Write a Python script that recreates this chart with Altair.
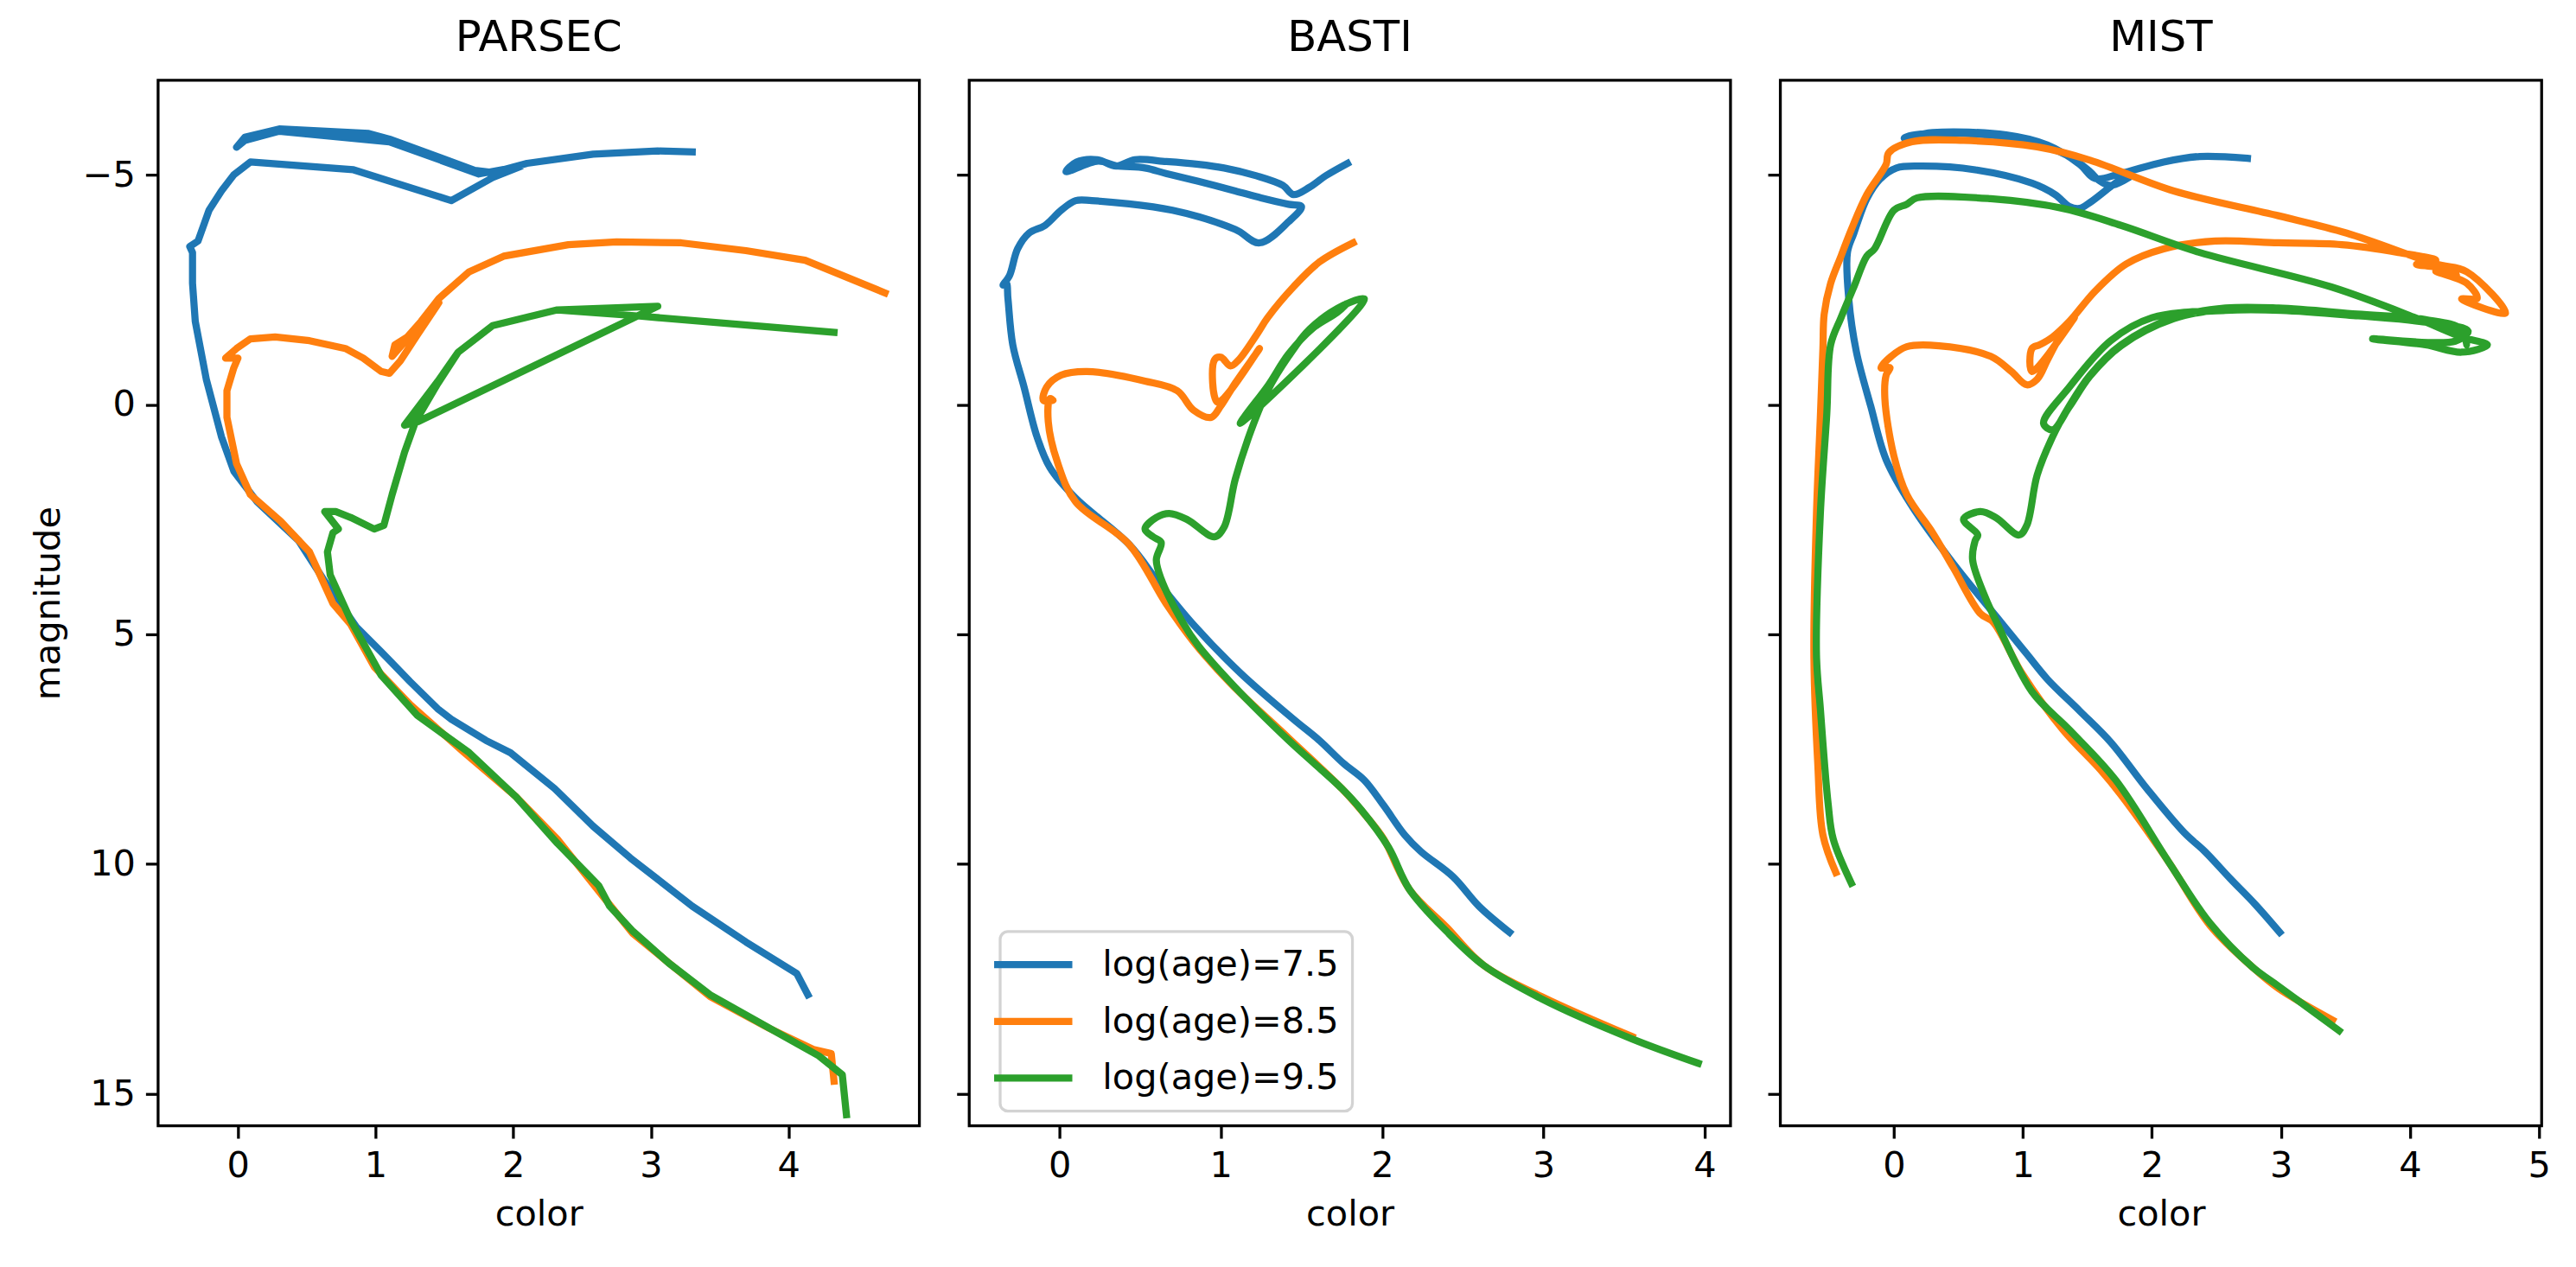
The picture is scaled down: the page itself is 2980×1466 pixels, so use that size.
import altair as alt
import pandas as pd

FONT = "DejaVu Sans"
SERIES = ["log(age)=7.5", "log(age)=8.5", "log(age)=9.5"]
COLORS = ["#1f77b4", "#ff7f0e", "#2ca02c"]
PANELS = ["PARSEC", "BASTI", "MIST"]
Y_DOMAIN = [-7.06, 15.70]
Y_TICKS = [-5, 0, 5, 10, 15]

# ---------------- PARSEC ----------------
PARSEC_75_COLOR = [4.14, 4.06, 3.69, 3.30, 2.85, 2.58, 2.30, 1.98, 1.80, 1.55, 1.45, 1.25, 1.04, 0.86, 0.62,
                   0.44, 0.14, -0.03, -0.12, -0.23, -0.31, -0.33, -0.33, -0.35, -0.29, -0.21, -0.12, -0.03,
                   0.09, 0.84, 1.55, 1.85, 2.06, 1.75, 1.10, 0.30, 0.05, -0.01, 0.05, 0.30, 0.95, 1.10, 1.72,
                   1.85, 2.10, 2.58, 3.05, 3.30]
PARSEC_75_MAG = [12.85, 12.39, 11.70, 10.92, 9.87, 9.18, 8.36, 7.58, 7.31, 6.85, 6.62, 6.03, 5.38, 4.84, 3.80,
                 2.96, 2.12, 1.45, 0.70, -0.55, -1.81, -2.64, -3.31, -3.44, -3.56, -4.23, -4.65, -5.00,
                 -5.28, -5.11, -4.44, -4.94, -5.19, -5.02, -5.72, -5.95, -5.75, -5.60, -5.82, -6.00, -5.90,
                 -5.78, -5.10, -5.05, -5.25, -5.45, -5.52, -5.50]

PARSEC_85_COLOR = [4.33, 4.31, 4.18, 3.86, 3.43, 2.87, 2.66, 2.32, 2.02, 1.63, 1.25, 0.99, 0.82, 0.69, 0.52,
                   0.31, 0.09, -0.01, -0.08, -0.08, -0.03, 0.00, -0.09, -0.01, 0.09, 0.27, 0.52, 0.78, 0.91,
                   1.04, 1.10, 1.18, 1.30, 1.46, 1.12, 1.14, 1.23, 1.33, 1.46, 1.68, 1.93, 2.40, 2.75, 3.22,
                   3.69, 4.12, 4.70]
PARSEC_85_MAG = [14.73, 14.13, 14.04, 13.58, 12.89, 11.52, 10.74, 9.46, 8.54, 7.54, 6.53, 5.71, 4.79, 4.33,
                 3.21, 2.54, 1.96, 1.29, 0.28, -0.30, -0.80, -1.01, -1.01, -1.22, -1.43, -1.47, -1.39, -1.22,
                 -1.01, -0.72, -0.68, -0.95, -1.50, -2.22, -1.05, -1.30, -1.47, -1.81, -2.31, -2.89, -3.23,
                 -3.48, -3.54, -3.52, -3.35, -3.14, -2.43]

PARSEC_95_COLOR = [4.42, 4.39, 4.22, 3.81, 3.43, 3.13, 2.87, 2.70, 2.62, 2.32, 2.02, 1.68, 1.30, 1.04, 0.82,
                   0.67, 0.65, 0.69, 0.73, 0.63, 0.71, 0.82, 0.99, 1.06, 1.12, 1.21, 1.29, 1.45, 1.60, 1.85,
                   2.32, 3.05, 1.31, 1.21, 1.45, 1.60, 1.85, 2.32, 2.90, 4.33]
PARSEC_95_MAG = [15.46, 14.59, 14.18, 13.49, 12.85, 12.16, 11.47, 10.92, 10.47, 9.55, 8.54, 7.58, 6.76, 5.89,
                 4.70, 3.71, 3.21, 2.79, 2.71, 2.33, 2.33, 2.46, 2.71, 2.63, 1.96, 1.04, 0.37, -0.45, -1.14,
                 -1.72, -2.06, -2.14, 0.37, 0.45, -0.50, -1.14, -1.72, -2.06, -1.93, -1.57]

# ---------------- BASTI ----------------
BASTI_75_COLOR = [2.79, 2.60, 2.44, 2.24, 2.14, 2.01, 1.89, 1.76, 1.61, 1.45, 1.12, 0.83, 0.62, 0.43, 0.10,
                  -0.06, -0.14, -0.22, -0.29, -0.32, -0.33, -0.35, -0.31, -0.26, -0.19, -0.09, 0.01, 0.10,
                  0.20, 0.70, 1.09, 1.24, 1.42, 1.50, 1.42, 1.25, 1.09, 0.86, 0.66, 0.53, 0.35, 0.24, 0.04,
                  0.105, 0.236, 0.35, 0.466, 0.663, 0.86, 1.02, 1.22, 1.385, 1.45, 1.55, 1.65, 1.785]
BASTI_75_MAG = [11.49, 10.92, 10.28, 9.73, 9.37, 8.73, 8.18, 7.81, 7.31, 6.85, 5.84, 4.79, 3.90, 3.04, 2.04,
                1.37, 0.70, -0.38, -1.30, -2.31, -2.64, -2.60, -2.81, -3.39, -3.73, -3.90, -4.23, -4.44,
                -4.44, -4.23, -3.81, -3.52, -3.98, -4.31, -4.36, -4.50, -4.65, -4.86, -5.03, -5.15, -5.20,
                -5.30, -5.07, -5.28, -5.33, -5.19, -5.33, -5.29, -5.23, -5.15, -4.98, -4.77, -4.57, -4.73,
                -4.98, -5.25]

BASTI_85_COLOR = [3.55, 2.99, 2.63, 2.40, 2.17, 2.01, 1.91, 1.75, 1.42, 1.06, 0.83, 0.66, 0.43, 0.10, -0.01,
                  -0.07, -0.06, -0.04, -0.10, -0.08, 0.01, 0.17, 0.53, 0.73, 0.83, 0.94, 1.00, 1.09, 1.24,
                  0.98, 0.96, 1.00, 1.06, 1.11, 1.22, 1.29, 1.45, 1.61, 1.82]
BASTI_85_MAG = [13.76, 12.89, 12.21, 11.38, 10.56, 9.46, 9.00, 8.36, 7.26, 6.07, 5.16, 4.33, 3.04, 2.12, 1.29,
                0.37, -0.13, -0.09, -0.09, -0.38, -0.64, -0.72, -0.51, -0.30, 0.12, 0.28, 0.03, -0.47, -1.22,
                -0.05, -0.97, -1.03, -0.84, -0.97, -1.51, -1.89, -2.56, -3.10, -3.52]

BASTI_95_COLOR = [3.96, 3.55, 2.99, 2.63, 2.40, 2.17, 2.04, 1.87, 1.75, 1.42, 1.09, 0.86, 0.76, 0.63, 0.60,
                  0.63, 0.58, 0.53, 0.60, 0.68, 0.79, 0.96, 1.02, 1.09, 1.19, 1.29, 1.42, 1.55, 1.76, 1.89,
                  1.12, 1.16, 1.29, 1.42, 1.57, 1.72, 1.77]
BASTI_95_MAG = [14.34, 13.81, 12.94, 12.21, 11.47, 10.56, 9.64, 8.82, 8.36, 7.31, 6.16, 5.25, 4.72, 3.80,
                3.38, 3.00, 2.88, 2.71, 2.46, 2.37, 2.50, 2.88, 2.67, 1.62, 0.54, -0.30, -1.05, -1.64, -2.16,
                -2.30, 0.41, 0.20, -0.40, -1.10, -1.66, -2.00, -2.16]

# ---------------- MIST ----------------
MIST_75_COLOR = [2.99, 2.80, 2.61, 2.41, 2.25, 1.96, 1.68, 1.44, 1.19, 1.03, 0.83, 0.46, 0.14, -0.06, -0.18,
                 -0.29, -0.35, -0.36, -0.31, -0.21, -0.11, 0.02, 0.22, 0.63, 1.07, 1.25, 1.36, 1.44, 1.52,
                 1.76, 1.84, 1.68, 1.58, 1.52, 1.36, 1.03, 0.54, 0.14, 0.08, 0.30, 0.87, 1.19, 1.44, 1.56,
                 1.76, 2.09, 2.37, 2.74]
MIST_75_MAG = [11.49, 10.88, 10.33, 9.73, 9.32, 8.36, 7.35, 6.67, 5.98, 5.43, 4.74, 3.46, 2.21, 1.20, 0.03,
               -1.14, -2.31, -3.31, -3.73, -4.48, -4.90, -5.15, -5.19, -5.11, -4.82, -4.57, -4.31, -4.27,
               -4.40, -4.90, -4.98, -4.77, -4.90, -5.07, -5.40, -5.74, -5.90, -5.86, -5.80, -5.92, -5.87,
               -5.65, -5.23, -4.92, -5.03, -5.28, -5.40, -5.36]

MIST_85_COLOR = [3.40, 2.98, 2.78, 2.45, 2.13, 1.76, 1.60, 1.31, 0.99, 0.77, 0.67, 0.46, 0.30, 0.10, 0.00,
                 -0.07, -0.06, -0.03, -0.10, -0.02, 0.10, 0.35, 0.75, 0.91, 1.03, 1.11, 1.19, 1.27, 1.40,
                 1.07, 1.07, 1.13, 1.23, 1.36, 1.56, 1.80, 2.09, 2.49, 2.98, 3.47, 3.91, 4.20, 4.05, 4.30,
                 4.36, 4.20, 4.44, 4.52, 4.40, 4.74, 4.44, 4.20, 3.51, 2.98, 2.17, 1.52, 1.11, 0.54, 0.14,
                 -0.04, -0.06, -0.21, -0.33, -0.41, -0.49, -0.54, -0.55, -0.57, -0.60, -0.62, -0.59, -0.55,
                 -0.45]
MIST_85_MAG = [13.40, 12.71, 12.25, 11.34, 9.96, 8.50, 7.95, 7.08, 5.84, 4.74, 4.55, 3.55, 2.79, 1.96, 1.12,
               -0.13, -0.64, -0.80, -0.80, -1.05, -1.26, -1.28, -1.05, -0.72, -0.43, -0.55, -0.97, -1.39,
               -1.89, -0.72, -1.22, -1.30, -1.47, -1.81, -2.47, -3.06, -3.39, -3.56, -3.52, -3.48, -3.31,
               -3.14, -3.05, -2.95, -2.81, -2.90, -2.64, -2.31, -2.30, -1.99, -2.89, -3.06, -3.73, -4.11,
               -4.65, -5.32, -5.61, -5.75, -5.72, -5.48, -5.23, -4.57, -3.81, -3.23, -2.64, -1.97, -1.22,
               0.28, 2.38, 5.45, 7.81, 9.37, 10.19]

MIST_95_COLOR = [3.45, 2.98, 2.78, 2.45, 2.13, 1.72, 1.36, 1.07, 0.79, 0.71, 0.61, 0.63, 0.65, 0.54, 0.67,
                 0.79, 0.97, 1.03, 1.11, 1.23, 1.36, 1.52, 1.76, 2.17, 2.57, 2.98, 3.59, 4.12, 4.40, 4.44,
                 4.40, 4.12, 3.59, 2.98, 2.57, 2.17, 1.76, 1.52, 1.36, 1.23, 1.16,
                 1.36, 1.68, 2.00, 2.57, 3.00, 3.60, 4.10, 4.45, 4.35, 3.71, 4.12, 4.40, 4.60, 4.40,
                 4.04, 3.39, 2.37, 1.76, 1.31, 0.75, 0.18, 0.10, 0.00, -0.15, -0.21, -0.31, -0.41, -0.49,
                 -0.52, -0.57, -0.60, -0.57, -0.51, -0.47, -0.33]
MIST_95_MAG = [13.63, 12.66, 12.25, 11.29, 9.96, 8.18, 7.08, 6.25, 4.70, 4.21, 3.38, 2.96, 2.84, 2.50, 2.33,
               2.46, 2.84, 2.63, 1.54, 0.70, 0.03, -0.64, -1.30, -1.89, -2.10, -2.10, -1.97, -1.85, -1.64,
               -1.30, -1.60, -1.82, -1.95, -2.08, -2.08, -1.87, -1.28, -0.62, 0.05, 0.55, 0.41,
               -0.38, -1.39, -1.89, -2.05, -2.05, -1.93, -1.80, -1.60, -1.38, -1.43, -1.30,
               -1.14, -1.30, -1.47, -1.89, -2.56, -3.31, -3.90, -4.27, -4.48, -4.50, -4.36, -4.23, -3.39,
               -3.23, -2.56, -1.89, -1.30, 0.20, 2.38, 5.45, 6.62, 8.68, 9.46, 10.42]

X_DOMAINS = {"PARSEC": [-0.58, 4.95], "BASTI": [-0.56, 4.16], "MIST": [-0.88, 5.02]}
X_TICKS = {"PARSEC": [0, 1, 2, 3, 4], "BASTI": [0, 1, 2, 3, 4], "MIST": [0, 1, 2, 3, 4, 5]}

DATA = {
    "PARSEC": [(PARSEC_75_COLOR, PARSEC_75_MAG), (PARSEC_85_COLOR, PARSEC_85_MAG), (PARSEC_95_COLOR, PARSEC_95_MAG)],
    "BASTI": [(BASTI_75_COLOR, BASTI_75_MAG), (BASTI_85_COLOR, BASTI_85_MAG), (BASTI_95_COLOR, BASTI_95_MAG)],
    "MIST": [(MIST_75_COLOR, MIST_75_MAG), (MIST_85_COLOR, MIST_85_MAG), (MIST_95_COLOR, MIST_95_MAG)],
}

PW, PH = 886, 1217


def make_panel(name, first, with_legend, interp):
    layers = []
    for (cols, mags), label in zip(DATA[name], SERIES):
        df = pd.DataFrame({"color": cols, "magnitude": mags, "series": label,
                           "idx": list(range(len(cols)))})
        if with_legend:
            legend = alt.Legend(
                title=None, orient="none", legendX=36, legendY=991,
                direction="vertical", fillColor="white", strokeColor="#d3d3d3",
                cornerRadius=9, padding=16,
                symbolType="M-2.5,0H2.5", symbolSize=1325, symbolStrokeWidth=8.3,
                labelFont=FONT, labelFontSize=41.7, labelColor="black", labelLimit=2000,
                labelOffset=58, rowPadding=21, offset=0,
            )
        else:
            legend = None
        yaxis = alt.Axis(values=Y_TICKS, title="magnitude" if first else None,
                         labels=first, titlePadding=18,
                         labelExpr="replace(datum.label, '-', '\u2212')")
        layers.append(
            alt.Chart(df).mark_line(strokeWidth=8.3, strokeCap="square", strokeJoin="round",
                                    clip=True, interpolate=interp).encode(
                x=alt.X("color:Q", scale=alt.Scale(domain=X_DOMAINS[name], nice=False, zero=False),
                        axis=alt.Axis(values=X_TICKS[name], title="color", titlePadding=14)),
                y=alt.Y("magnitude:Q",
                        scale=alt.Scale(domain=Y_DOMAIN, reverse=True, nice=False, zero=False),
                        axis=yaxis),
                color=alt.Color("series:N", scale=alt.Scale(domain=SERIES, range=COLORS), legend=legend),
                order="idx:Q",
            )
        )
    return alt.layer(*layers).properties(
        width=PW, height=PH,
        title=alt.TitleParams(text=name, font=FONT, fontSize=50, fontWeight="normal",
                              color="black", anchor="middle", frame="group", offset=24),
    )


chart = alt.hconcat(
    make_panel("PARSEC", True, False, "linear"),
    make_panel("BASTI", False, True, "catmull-rom"),
    make_panel("MIST", False, False, "catmull-rom"),
    spacing=38,
).resolve_scale(color="independent").resolve_legend(color="independent").properties(
    padding={"left": 34, "top": 13, "right": 28, "bottom": 24},
    background="white",
).configure_axis(
    labelFont=FONT, titleFont=FONT, labelFontSize=41.7, titleFontSize=41.7,
    labelColor="black", titleColor="black", titleFontWeight="normal",
    tickColor="black", tickWidth=3.3, tickSize=14.6, labelPadding=12,
    domain=False, grid=False,
).configure_legend(
    strokeWidth=3.3, strokeColor="#d3d3d3", fillColor="white", cornerRadius=9, padding=16,
).configure_view(stroke="black", strokeWidth=3.3)

chart.save("out.html", embed_options={"renderer": "svg", "actions": False})
